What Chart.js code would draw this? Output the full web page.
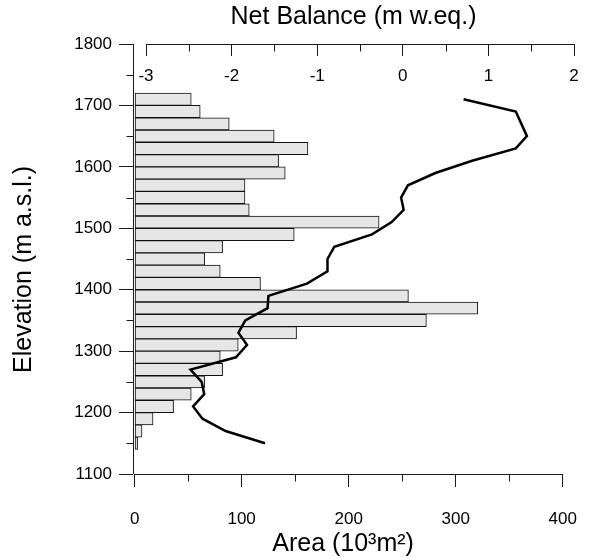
<!DOCTYPE html>
<html>
<head>
<meta charset="utf-8">
<script src="https://cdn.jsdelivr.net/npm/chart.js@4/dist/chart.umd.min.js"></script>
<style>
  html, body { margin: 0; padding: 0; background: #fff; }
  #wrap { width: 591px; height: 559px; }
</style>
</head>
<body>
<div id="wrap"><canvas id="c" width="591" height="559"></canvas></div>
<script>
// ---- data ----
const bandElevations = [1710,1690,1670,1650,1630,1610,1590,1570,1550,1530,1510,1490,1470,1450,1430,1410,1390,1370,1350,1330,1310,1290,1270,1250,1230,1210,1190,1170,1150];
const areaValues = [52.9,61.3,88.4,130.4,161.9,134.5,140.7,103.1,103.1,107.1,228.4,149.1,82.2,65.4,80.0,117.6,255.8,320.6,272.6,151.3,96.8,80.0,82.2,65.4,52.9,36.4,17.2,6.9,2.8];
const balanceElevations = [1710,1690,1650,1630,1610,1590,1570,1550,1530,1510,1490,1470,1450,1430,1410,1390,1370,1350,1330,1310,1290,1270,1250,1230,1210,1190,1170,1150];
const balanceValues = [0.71,1.32,1.45,1.32,0.81,0.38,0.06,-0.02,0.01,-0.13,-0.36,-0.80,-0.88,-0.88,-1.12,-1.57,-1.58,-1.84,-1.92,-1.82,-1.95,-2.48,-2.35,-2.32,-2.45,-2.34,-2.07,-1.61];
const elevationTicks = [1100,1200,1300,1400,1500,1600,1700,1800];
const elevationMinorTicks = [1150,1250,1350,1450,1550,1650,1750];
const areaTicks = [0,100,200,300,400];
const areaMinorTicks = [50,150,250,350];
const balanceTicks = [-3,-2,-1,0,1,2];
const balanceMinorTicks = [-2.5,-1.5,-0.5,0.5,1.5];

const FONT = "'Liberation Sans', Arial, sans-serif";
const INK = '#1a1a1a';

const setTicks = (arr) => (scale) => { scale.ticks = arr.map(v => ({ value: v })); };
const plainLabel = (v) => String(v);
const fitTo = (prop, size) => (s) => {
  s[prop] = size;
  s.paddingLeft = 0; s.paddingRight = 0; s.paddingTop = 0; s.paddingBottom = 0;
};

const axisPlugin = {
  id: 'axisLines',
  afterDraw(chart) {
    const ctx = chart.ctx;
    const ca = chart.chartArea;
    const sy = chart.scales.y, sx = chart.scales.x, st = chart.scales.xTop;
    ctx.save();
    ctx.strokeStyle = INK;
    ctx.lineWidth = 1;
    const seg = (x1, y1, x2, y2) => { ctx.beginPath(); ctx.moveTo(x1, y1); ctx.lineTo(x2, y2); ctx.stroke(); };
    const lx = Math.round(ca.left) + 0.5;
    const by = Math.round(ca.bottom) + 0.5;
    const ty = Math.round(ca.top) + 0.5;
    seg(lx, sy.getPixelForValue(elevationTicks[elevationTicks.length - 1]), lx, sy.getPixelForValue(elevationTicks[0]));
    seg(sx.getPixelForValue(areaTicks[0]), by, sx.getPixelForValue(areaTicks[areaTicks.length - 1]), by);
    seg(st.getPixelForValue(balanceTicks[0]), ty, st.getPixelForValue(balanceTicks[balanceTicks.length - 1]), ty);
    elevationMinorTicks.forEach(v => { const p = Math.round(sy.getPixelForValue(v)) + 0.5; seg(lx - 7, p, lx, p); });
    areaMinorTicks.forEach(v => { const p = Math.round(sx.getPixelForValue(v)) + 0.5; seg(p, by, p, by + 7); });
    balanceMinorTicks.forEach(v => { const p = Math.round(st.getPixelForValue(v)) + 0.5; seg(p, ty, p, ty + 7); });
    ctx.restore();
  }
};

new Chart(document.getElementById('c'), {
  type: 'bar',
  data: {
    datasets: [
      {
        type: 'line',
        indexAxis: 'y',
        data: balanceElevations.map((e, i) => ({ x: balanceValues[i], y: e })),
        xAxisID: 'xTop',
        yAxisID: 'y',
        borderColor: '#000',
        borderWidth: 2.5,
        pointRadius: 0,
        tension: 0,
        fill: false,
        order: 0
      },
      {
        type: 'bar',
        indexAxis: 'y',
        data: bandElevations.map((e, i) => ({ x: areaValues[i], y: e })),
        xAxisID: 'x',
        yAxisID: 'y',
        backgroundColor: '#e6e6e6',
        borderColor: '#111',
        borderWidth: 1,
        borderSkipped: false,
        barPercentage: 1,
        categoryPercentage: 1,
        order: 1
      }
    ]
  },
  options: {
    responsive: false,
    animation: false,
    devicePixelRatio: 1,
    indexAxis: 'y',
    layout: { padding: { left: 0, right: 17, top: 0, bottom: 0 } },
    plugins: { legend: { display: false }, tooltip: { enabled: false } },
    scales: {
      y: {
        type: 'linear',
        position: 'left',
        min: 1100, max: 1800,
        offset: false,
        afterBuildTicks: setTicks(elevationTicks),
        afterFit: fitTo('width', 133),
        border: { display: false },
        grid: { offset: false, drawOnChartArea: false, drawTicks: true, tickLength: 14, color: INK, tickColor: INK },
        ticks: { color: '#000', padding: 7, callback: plainLabel, font: { family: FONT, size: 17 } },
        title: { display: true, text: 'Elevation (m a.s.l.)   ', color: '#000', padding: { top: 9, bottom: 0 }, font: { family: FONT, size: 25 } }
      },
      x: {
        type: 'linear',
        position: 'bottom',
        min: -1.5, max: 410.5,
        afterBuildTicks: setTicks(areaTicks),
        afterFit: fitTo('height', 85),
        border: { display: false },
        grid: { drawOnChartArea: false, drawTicks: true, tickLength: 13, color: INK, tickColor: INK },
        ticks: { color: '#000', padding: 22, maxRotation: 0, callback: plainLabel, font: { family: FONT, size: 17 } },
        title: { display: true, text: 'Area (10\u00B3m\u00B2)   ', color: '#000', padding: { top: 0, bottom: 0 }, font: { family: FONT, size: 25 } }
      },
      xTop: {
        type: 'linear',
        position: 'top',
        min: -3.152, max: 2,
        afterBuildTicks: setTicks(balanceTicks),
        afterFit: fitTo('height', 44),
        border: { display: false },
        grid: { drawOnChartArea: false, drawTicks: true, tickLength: -12, color: INK, tickColor: INK },
        ticks: { color: '#000', mirror: true, padding: 22, maxRotation: 0, callback: plainLabel, font: { family: FONT, size: 17 } },
        title: { display: true, text: 'Net Balance (m w.eq.)', color: '#000', padding: { top: 2, bottom: 0 }, font: { family: FONT, size: 25 } }
      }
    }
  },
  plugins: [axisPlugin]
});
</script>
</body>
</html>
